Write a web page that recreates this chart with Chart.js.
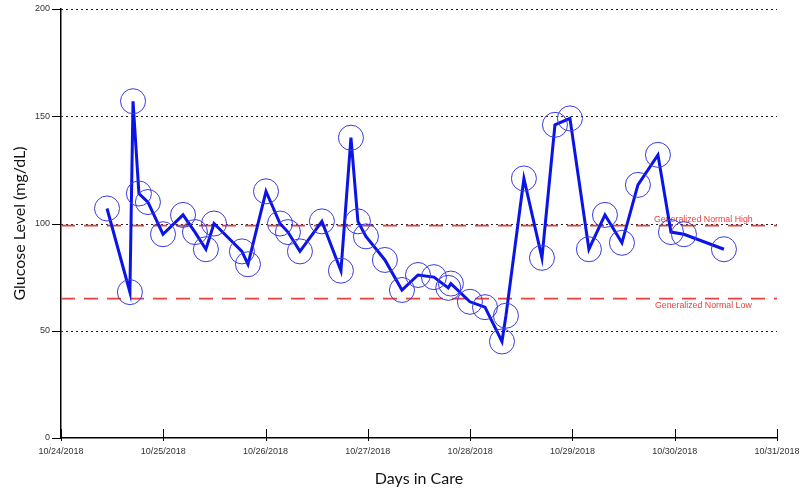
<!DOCTYPE html>
<html>
<head>
<meta charset="utf-8">
<script src="https://cdn.jsdelivr.net/npm/chart.js@4/dist/chart.umd.min.js"></script>
<style>
  html, body { margin: 0; padding: 0; background: #fff; }
  #wrap { width: 800px; height: 500px; position: relative; }
</style>
</head>
<body>
<div id="wrap"><canvas id="c" width="800" height="500"></canvas></div>
<script>
// ---- Data ----
const readingTimes = [
  "2018-10-24T10:48", "2018-10-24T16:10", "2018-10-24T16:54", "2018-10-24T18:17", "2018-10-24T20:24",
  "2018-10-24T23:56", "2018-10-25T04:38", "2018-10-25T07:26", "2018-10-25T10:00", "2018-10-25T11:54",
  "2018-10-25T18:27", "2018-10-25T19:52", "2018-10-26T00:06", "2018-10-26T03:23", "2018-10-26T05:15",
  "2018-10-26T08:04", "2018-10-26T13:13", "2018-10-26T17:41", "2018-10-26T20:02", "2018-10-26T21:40",
  "2018-10-26T23:33", "2018-10-27T04:00", "2018-10-27T08:00", "2018-10-27T11:46", "2018-10-27T15:30",
  "2018-10-27T18:52", "2018-10-27T19:29", "2018-10-27T23:57", "2018-10-28T03:29", "2018-10-28T07:28",
  "2018-10-28T08:24", "2018-10-28T12:37", "2018-10-28T16:51", "2018-10-28T19:54", "2018-10-28T23:25",
  "2018-10-29T03:52", "2018-10-29T07:38", "2018-10-29T11:37", "2018-10-29T15:22", "2018-10-29T20:04",
  "2018-10-29T23:07", "2018-10-30T02:10", "2018-10-30T11:33"
];
const glucoseValues = [
  107, 68, 157, 114, 110,
  95, 104, 96, 88, 100,
  87, 81, 115, 100, 96,
  87, 101, 78, 140, 101,
  94, 83, 69, 76, 75,
  70, 72, 63.5, 61, 45,
  57, 121, 84, 146, 149,
  88, 104, 91, 118, 132,
  96, 95, 88
];
const dayTickLabels = [
  "10/24/2018", "10/25/2018", "10/26/2018", "10/27/2018",
  "10/28/2018", "10/29/2018", "10/30/2018", "10/31/2018"
];
const startDate = "2018-10-24T00:00";
const yTickValues = [0, 50, 100, 150, 200];
const gridLineValues = [50, 100, 150, 200];
const normalHigh = 99;
const normalLow = 65;
const normalHighLabel = "Generalized Normal High";
const normalLowLabel = "Generalized Normal Low";

// ---- Build points (days since start) ----
const t0 = Date.parse(startDate + ":00Z");
const points = readingTimes.map((s, i) => ({
  x: (Date.parse(s + ":00Z") - t0) / 86400000,
  y: glucoseValues[i]
}));

const overlay = {
  id: 'overlay',
  beforeDatasetsDraw(chart) {
    const { ctx, chartArea: a, scales: { x, y } } = chart;
    ctx.save();
    // dotted grid lines
    ctx.strokeStyle = '#222';
    ctx.lineWidth = 1;
    ctx.setLineDash([2, 3]);
    gridLineValues.forEach(v => {
      const py = Math.round(y.getPixelForValue(v)) + 0.5;
      ctx.beginPath(); ctx.moveTo(a.left, py); ctx.lineTo(a.right, py); ctx.stroke();
    });
    ctx.setLineDash([]);
    // y tick marks
    ctx.strokeStyle = '#000';
    yTickValues.forEach(v => {
      const py = Math.round(y.getPixelForValue(v)) + 0.5;
      ctx.beginPath(); ctx.moveTo(a.left - 9, py); ctx.lineTo(a.left, py); ctx.stroke();
    });
    // x tick marks
    dayTickLabels.forEach((_, i) => {
      const px = Math.round(x.getPixelForValue(i)) + 0.5;
      ctx.beginPath(); ctx.moveTo(px, a.bottom - 9); ctx.lineTo(px, a.bottom + 3); ctx.stroke();
    });
    // normal range lines
    ctx.strokeStyle = '#e8403f';
    ctx.lineWidth = 1.6;
    ctx.setLineDash([14, 9]);
    [normalHigh, normalLow].forEach(v => {
      const py = y.getPixelForValue(v);
      ctx.beginPath(); ctx.moveTo(a.left, py); ctx.lineTo(a.right, py); ctx.stroke();
    });
    ctx.setLineDash([]);
    ctx.fillStyle = '#e8403f';
    ctx.font = '8.8px "Liberation Sans", Arial, sans-serif';
    ctx.textAlign = 'center';
    ctx.textBaseline = 'bottom';
    const lx = x.getPixelForValue(6.28);
    ctx.fillText(normalHighLabel, lx, y.getPixelForValue(normalHigh) - 2);
    ctx.textBaseline = 'top';
    ctx.fillText(normalLowLabel, lx, y.getPixelForValue(normalLow) + 3);
    ctx.restore();
  }
};

new Chart(document.getElementById('c'), {
  type: 'line',
  data: {
    datasets: [{
      data: points,
      borderColor: '#0a14e6',
      borderWidth: 3,
      pointRadius: 12.5,
      pointBorderWidth: 1,
      pointBorderColor: '#3a3ae0',
      pointBackgroundColor: 'rgba(0,0,0,0)',
      tension: 0,
      fill: false
    }]
  },
  options: {
    responsive: false,
    animation: false,
    events: [],
    layout: { autoPadding: false, padding: { top: 9, left: 0, right: 0, bottom: 0 } },
    plugins: { legend: { display: false }, tooltip: { enabled: false } },
    scales: {
      x: {
        type: 'linear',
        min: 0, max: 7,
        afterFit: s => { s.height = 62; s.paddingRight = 23; s.paddingLeft = 0; },
        grid: { display: false, drawTicks: false },
        border: { display: true, color: '#000', width: 1.5 },
        ticks: {
          stepSize: 1,
          padding: 8,
          color: '#333',
          font: { family: '"Liberation Sans", Arial, sans-serif', size: 9 },
          maxRotation: 0,
          callback: v => dayTickLabels[v] ?? ''
        },
        title: {
          display: true,
          text: 'Days in Care',
          color: '#111',
          font: { family: 'Lato, "Open Sans", sans-serif', size: 16 },
          padding: { top: 0, bottom: 12 }
        }
      },
      y: {
        min: 0, max: 200,
        afterFit: s => { s.width = 61; s.paddingTop = 0; s.paddingBottom = 0; },
        grid: { display: false, drawTicks: false },
        border: { display: true, color: '#000', width: 1.5 },
        ticks: {
          stepSize: 50,
          padding: 11,
          color: '#333',
          font: { family: '"Liberation Sans", Arial, sans-serif', size: 9 },
          callback: v => yTickValues.includes(v) ? String(v) : ''
        },
        title: {
          display: true,
          text: 'Glucose Level (mg/dL)',
          color: '#111',
          font: { family: 'Lato, "Open Sans", sans-serif', size: 16 },
          padding: { top: 10, bottom: 0 }
        }
      }
    }
  },
  plugins: [overlay]
});
</script>
</body>
</html>
